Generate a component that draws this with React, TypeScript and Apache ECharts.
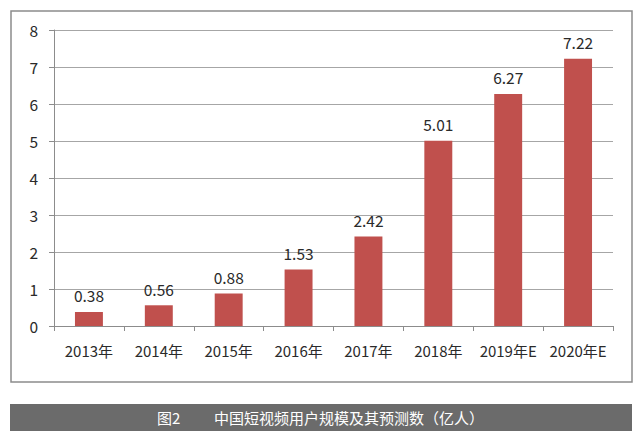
import React, { useEffect, useRef } from "react";
import * as echarts from "echarts";

const categories = ["2013年", "2014年", "2015年", "2016年", "2017年", "2018年", "2019年E", "2020年E"];
const users = [0.38, 0.56, 0.88, 1.53, 2.42, 5.01, 6.27, 7.22];
const yTicks = { min: 0, max: 8, interval: 1 };
const captionNo = "图2";
const captionText = "中国短视频用户规模及其预测数（亿人）";

const FONT = "'Noto Sans CJK SC', 'Noto Sans', sans-serif";

export default function App() {
  const ref = useRef<HTMLDivElement>(null);
  useEffect(() => {
    if (!ref.current) return;
    const chart = echarts.init(ref.current, undefined, { renderer: "svg" });
    chart.setOption({
      animation: false,
      backgroundColor: "#ffffff",
      textStyle: { fontFamily: FONT },
      grid: { left: 54, right: 27, top: 30, bottom: 108, containLabel: false },
      xAxis: {
        type: "category",
        data: categories,
        axisLine: { show: true, lineStyle: { color: "#8c8c8c", width: 1 } },
        axisTick: { show: true, length: 5, alignWithLabel: false, lineStyle: { color: "#8c8c8c" } },
        axisLabel: { color: "#2a2a2a", fontSize: 15, margin: 17, fontFamily: FONT, interval: 0 },
      },
      yAxis: {
        type: "value",
        min: yTicks.min,
        max: yTicks.max,
        interval: yTicks.interval,
        axisLine: { show: true, lineStyle: { color: "#8c8c8c", width: 1 } },
        axisTick: { show: true, length: 5, lineStyle: { color: "#8c8c8c" } },
        axisLabel: { color: "#2a2a2a", fontSize: 15.5, margin: 16, fontFamily: FONT },
        splitLine: { show: true, lineStyle: { color: "#a6a6a6", width: 1 } },
      },
      series: [
        {
          type: "bar",
          data: users,
          barWidth: "40%",
          itemStyle: { color: "#c0504d" },
          label: {
            show: true,
            position: "top",
            distance: 9,
            color: "#2a2a2a",
            fontSize: 15.5,
            fontFamily: FONT,
            formatter: (p: any) => p.value.toFixed(2),
          },
        },
      ],
      graphic: [
        {
          type: "rect",
          shape: { x: 11, y: 11, width: 621, height: 371 },
          style: { fill: "none", stroke: "#8c8c8c", lineWidth: 1.5 },
          silent: true,
        },
        {
          type: "rect",
          shape: { x: 10, y: 404, width: 622, height: 27 },
          style: { fill: "#6b6b6b" },
          silent: true,
        },
        {
          type: "text",
          x: 157,
          y: 417.5,
          style: { text: captionNo, fill: "#ffffff", fontSize: 15, fontFamily: FONT, verticalAlign: "middle" },
        },
        {
          type: "text",
          x: 214,
          y: 417.5,
          style: { text: captionText, fill: "#ffffff", fontSize: 15, fontFamily: FONT, verticalAlign: "middle" },
        },
      ],
    });
    return () => chart.dispose();
  }, []);
  return <div ref={ref} style={{ width: 640, height: 434, position: "absolute", left: 0, top: 0 }} />;
}
